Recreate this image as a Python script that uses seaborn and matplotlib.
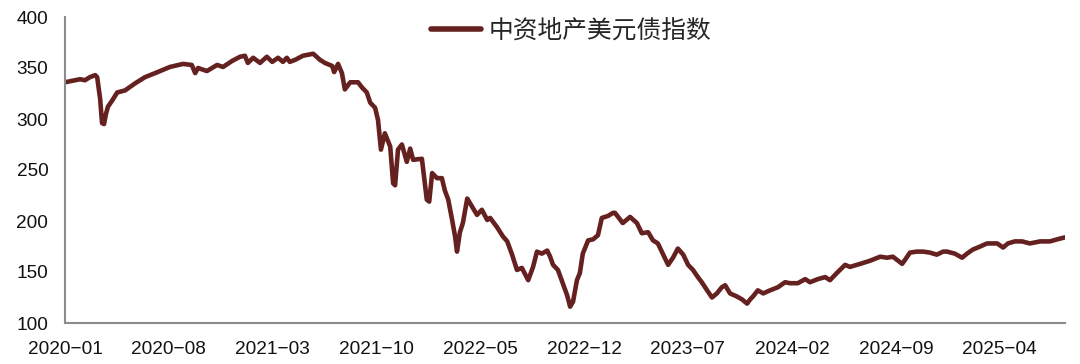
import matplotlib
matplotlib.use("Agg")
import matplotlib.pyplot as plt
import seaborn as sns
import pandas as pd

dates = [
    "2020-01-01", "2020-02-01", "2020-02-11", "2020-02-21", "2020-03-03", "2020-03-07",
    "2020-03-13", "2020-03-17", "2020-03-21", "2020-03-25", "2020-03-29", "2020-04-08",
    "2020-04-17", "2020-05-03", "2020-05-24", "2020-06-13", "2020-07-04", "2020-08-03",
    "2020-08-30", "2020-09-17", "2020-09-24", "2020-09-30", "2020-10-18", "2020-11-08",
    "2020-11-20", "2020-12-09", "2020-12-25", "2021-01-04", "2021-01-10", "2021-01-21",
    "2021-02-04", "2021-02-18", "2021-03-01", "2021-03-13", "2021-03-23", "2021-03-31",
    "2021-04-06", "2021-04-17", "2021-05-03", "2021-05-24", "2021-06-07", "2021-06-17",
    "2021-07-02", "2021-07-06", "2021-07-14", "2021-07-22", "2021-07-28", "2021-08-08",
    "2021-08-24", "2021-09-01", "2021-09-11", "2021-09-18", "2021-09-28", "2021-10-04",
    "2021-10-10", "2021-10-18", "2021-10-29", "2021-11-04", "2021-11-08", "2021-11-14",
    "2021-11-22", "2021-12-02", "2021-12-09", "2021-12-15", "2022-01-02", "2022-01-12",
    "2022-01-17", "2022-01-23", "2022-02-02", "2022-02-12", "2022-02-18", "2022-02-25",
    "2022-03-05", "2022-03-11", "2022-03-15", "2022-03-21", "2022-03-27", "2022-04-05",
    "2022-04-15", "2022-04-25", "2022-05-05", "2022-05-16", "2022-05-22", "2022-06-05",
    "2022-06-17", "2022-06-26", "2022-07-06", "2022-07-16", "2022-07-26", "2022-08-08",
    "2022-08-18", "2022-08-26", "2022-09-05", "2022-09-16", "2022-09-22", "2022-09-28",
    "2022-10-08", "2022-10-18", "2022-10-27", "2022-11-02", "2022-11-08", "2022-11-16",
    "2022-11-22", "2022-11-28", "2022-12-09", "2022-12-19", "2022-12-29", "2023-01-06",
    "2023-01-19", "2023-01-29", "2023-02-02", "2023-02-18", "2023-03-05", "2023-03-19",
    "2023-03-29", "2023-04-11", "2023-04-21", "2023-05-01", "2023-05-12", "2023-05-22",
    "2023-06-01", "2023-06-11", "2023-06-22", "2023-07-02", "2023-07-12", "2023-07-22",
    "2023-07-30", "2023-08-10", "2023-08-20", "2023-08-30", "2023-09-09", "2023-09-16",
    "2023-09-26", "2023-10-10", "2023-10-21", "2023-10-31", "2023-11-06", "2023-11-12",
    "2023-11-22", "2023-12-03", "2023-12-17", "2024-01-02", "2024-01-17", "2024-01-27",
    "2024-02-12", "2024-02-27", "2024-03-08", "2024-03-24", "2024-04-08", "2024-04-18",
    "2024-05-02", "2024-05-19", "2024-05-29", "2024-06-19", "2024-07-09", "2024-07-30",
    "2024-08-13", "2024-08-25", "2024-09-02", "2024-09-13", "2024-09-19", "2024-09-29",
    "2024-10-13", "2024-10-26", "2024-11-09", "2024-11-23", "2024-12-06", "2024-12-14",
    "2024-12-30", "2025-01-14", "2025-01-24", "2025-02-05", "2025-02-20", "2025-03-06",
    "2025-03-27", "2025-04-08", "2025-04-18", "2025-05-02", "2025-05-17", "2025-06-02",
    "2025-06-23", "2025-07-13", "2025-07-28", "2025-08-13",
]

index_values = [
    336, 339, 338, 341, 343, 341,
    320, 296, 295, 305, 312, 319,
    326, 328, 335, 341, 345, 351,
    354, 353, 345, 350, 347, 353,
    351, 357, 361, 362, 355, 360,
    355, 361, 356, 360, 356, 360,
    356, 358, 362, 364, 358, 355,
    352, 346, 354, 345, 329, 336,
    336, 331, 326, 316, 311, 299,
    270, 286, 273, 237, 235, 270,
    275, 258, 271, 260, 261, 221,
    219, 247, 242, 242, 230, 221,
    201, 185, 170, 189, 198, 222,
    214, 206, 211, 201, 203, 194,
    185, 180, 167, 152, 154, 142,
    155, 170, 168, 171, 165, 157,
    152, 139, 127, 116, 121, 142,
    149, 168, 181, 182, 186, 203,
    205, 208, 208, 198, 204, 198,
    188, 189, 181, 178, 167, 157,
    164, 173, 167, 157, 152, 145,
    140, 132, 125, 129, 135, 137,
    129, 126, 123, 119, 123, 126,
    132, 129, 132, 135, 140, 139,
    139, 143, 140, 143, 145, 142,
    149, 157, 155, 158, 161, 165,
    164, 165, 162, 158, 162, 169,
    170, 170, 169, 167, 170, 170,
    168, 164, 168, 172, 175, 178,
    178, 174, 178, 180, 180, 178,
    180, 180, 182, 184,
]

series_name = "中资地产美元债指数"
tick_dates = ["2020-01", "2020-08", "2021-03", "2021-10", "2022-05",
              "2022-12", "2023-07", "2024-02", "2024-09", "2025-04"]
y_ticks = [100, 150, 200, 250, 300, 350, 400]

sns.set_style("white")
plt.rcParams["font.family"] = ["Liberation Sans", "Noto Sans CJK SC", "DejaVu Sans"]

df = pd.DataFrame({"date": pd.to_datetime(dates), "value": index_values, "series": series_name})

fig = plt.figure(figsize=(10.8, 3.64), dpi=100)
ax = fig.add_axes([65 / 1080, 1 - 323 / 364, 1000 / 1080, 306 / 364])

sns.lineplot(data=df, x="date", y="value", hue="series", palette=["#65211F"],
             linewidth=3.3, ax=ax, legend=True)

ax.set_xlim(pd.Timestamp("2020-01-01"), pd.Timestamp("2025-08-13"))
ax.set_ylim(100, 400)
ax.set_yticks(y_ticks)
ax.set_xticks(pd.to_datetime(tick_dates))
ax.set_xticklabels([t.replace("-", "\u2212") for t in tick_dates])
ax.set_xlabel("")
ax.set_ylabel("")

for s in ["top", "right"]:
    ax.spines[s].set_visible(False)
for s in ["left", "bottom"]:
    ax.spines[s].set_color("#8c8c8c")
    ax.spines[s].set_linewidth(1.5)

ax.tick_params(axis="both", direction="in", length=6, width=1.3, color="#8c8c8c",
               labelsize=13.7, labelcolor="#111111")
ax.tick_params(axis="y", pad=12)
ax.tick_params(axis="x", pad=13)
for lbl in ax.get_xticklabels() + ax.get_yticklabels():
    lbl.set_family("Liberation Sans")

leg = ax.legend(loc="center", bbox_to_anchor=(0.506, 0.957), frameon=False,
                handlelength=2.05, handletextpad=0.3, borderpad=0,
                prop={"family": ["Noto Sans CJK SC", "DejaVu Sans"], "size": 17.8})
for line in leg.get_lines():
    line.set_linewidth(4)

fig.savefig("out.png", dpi=100)
